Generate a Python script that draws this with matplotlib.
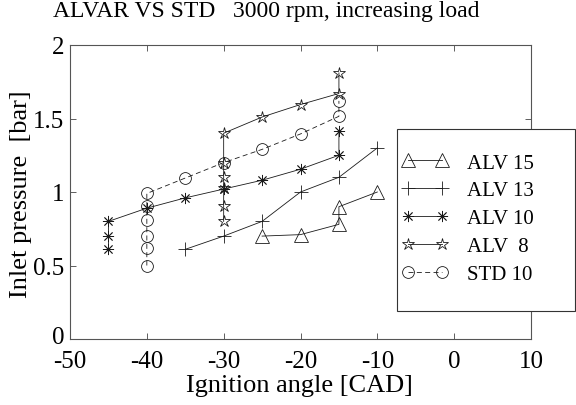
import matplotlib
matplotlib.use("Agg")
import matplotlib.pyplot as plt
from matplotlib.patches import Rectangle
import matplotlib.transforms as mtransforms

plt.rcParams['font.family'] = ['Liberation Serif', 'DejaVu Serif']
plt.rcParams['axes.unicode_minus'] = False

# Data (ignition angle [CAD], inlet pressure [bar])
alv15_x = [-25, -20, -15, -15, -10]
alv15_y = [0.70, 0.71, 0.78, 0.90, 1.00]

alv13_x = [-35, -30, -25, -20, -15, -10]
alv13_y = [0.61, 0.70, 0.80, 1.00, 1.10, 1.30]

alv10_x = [-45, -45, -45, -40, -35, -30, -25, -20, -15, -15]
alv10_y = [0.61, 0.70, 0.80, 0.89, 0.96, 1.02, 1.08, 1.155, 1.25, 1.415]

alv8_x = [-30, -30, -30, -30, -30, -30, -25, -20, -15, -15]
alv8_y = [0.80, 0.905, 1.025, 1.10, 1.20, 1.40, 1.51, 1.595, 1.67, 1.81]

std10_x = [-40, -40, -40, -40, -40, -40, -35, -30, -25, -20, -15, -15]
std10_y = [0.50, 0.62, 0.70, 0.81, 0.905, 0.99, 1.095, 1.20, 1.29, 1.395, 1.515, 1.62]

labels = ['ALV 15', 'ALV 13', 'ALV 10', 'ALV  8', 'STD 10']
xticks = [-50, -40, -30, -20, -10, 0, 10]
yticks = [0, 0.5, 1, 1.5, 2]
ytick_labels = ['0', '0.5', '1', '1.5', '2']

fig = plt.figure(figsize=(5.76, 4.06), dpi=100)
W, H = 576, 406
ax = fig.add_axes([70 / W, 1 - 340 / H, (531 - 70) / W, (340 - 46) / H])

lc = '#1a1a1a'
lw = 0.6
common = dict(color=lc, lw=lw, mec=lc, mew=0.6, fillstyle='none')
h1, = ax.plot(alv15_x, alv15_y, marker='^', ms=10, **common)
h2, = ax.plot(alv13_x, alv13_y, marker='+', ms=10, **common)
h3, = ax.plot(alv10_x, alv10_y, marker=(8, 2, 0), ms=8, **common)
h4, = ax.plot(alv8_x, alv8_y, marker='*', ms=9, **common)
h5, = ax.plot(std10_x, std10_y, marker='o', ms=8.5, ls=(0, (6, 4)), **common)

ax.set_xlim(-50, 10)
ax.set_ylim(0, 2)
ax.set_xticks(xticks)
ax.set_xticklabels([str(v) for v in xticks])
ax.set_yticks(yticks)
ax.set_yticklabels(ytick_labels)
ax.tick_params(direction='in', length=4, width=0.6, color='#444', labelsize=18,
               top=True, right=True)
ax.tick_params(axis='x', pad=8)
ax.tick_params(axis='y', pad=4)
for s in ax.spines.values():
    s.set_color('#555')
    s.set_linewidth(0.8)

# nudge the "0" y tick label up slightly so it does not collide with "-50"
zero_lbl = ax.get_yticklabels()[0]
zero_lbl.set_transform(zero_lbl.get_transform() +
                       mtransforms.ScaledTranslation(0, 4 / 100, fig.dpi_scale_trans))

fig.text(266 / W, 1 - 17 / H, 'ALVAR VS STD   3000 rpm, increasing load',
         ha='center', va='baseline', fontsize=17)
fig.text(299 / W, 1 - 392 / H, 'Ignition angle [CAD]', ha='center', va='baseline',
         fontsize=19)
fig.text(21 / W, 1 - 194 / H, 'Inlet pressure  [bar]', ha='center', va='center',
         rotation=90, fontsize=19)

# legend frame
fig.patches.append(Rectangle((397 / W, 1 - 312 / H), (575 - 397) / W, (312 - 130) / H,
                             transform=fig.transFigure, fill=True, facecolor='white',
                             edgecolor='#333', lw=0.8, zorder=3))
leg = fig.legend([h1, h2, h3, h4, h5], labels, loc='upper left',
                 bbox_to_anchor=(402 / W, 1 - 154 / H),
                 fontsize=15, frameon=False, borderpad=0, labelspacing=0.4,
                 handlelength=2.2, handletextpad=0.9, borderaxespad=0,
                 numpoints=2)
leg.set_zorder(4)

fig.savefig('out.png', dpi=100)
